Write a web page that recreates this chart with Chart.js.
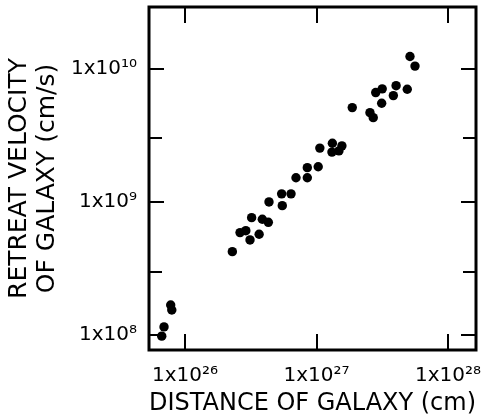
<!DOCTYPE html>
<html>
<head>
<meta charset="utf-8">
<script src="https://cdn.jsdelivr.net/npm/chart.js@4.4.1/dist/chart.umd.min.js"></script>
<style>
  html, body { margin: 0; padding: 0; background: #fff; }
  #wrap { width: 486px; height: 418px; }
</style>
</head>
<body>
<div id="wrap"><canvas id="hubble"></canvas></div>
<script>
// distance of galaxy (cm) and retreat velocity (cm/s)
const distance = [
    6.65e25, 6.92e25, 7.78e25, 7.93e25,
    2.29e26, 2.62e26, 2.90e26, 3.12e26, 3.66e26, 3.21e26, 3.87e26, 4.30e26,
    4.35e26, 5.43e26, 5.49e26, 6.40e26, 6.98e26, 8.51e26, 8.51e26,
    1.03e27, 1.06e27, 1.32e27, 1.31e27, 1.56e27, 1.48e27, 1.87e27,
    2.55e27, 2.70e27, 2.82e27, 3.16e27, 3.13e27, 3.84e27, 4.03e27, 4.90e27,
    5.14e27, 5.61e27
];
const velocity = [
    9.8e7, 1.15e8, 1.68e8, 1.54e8,
    4.23e8, 5.88e8, 6.08e8, 5.18e8, 5.72e8, 7.62e8, 7.41e8, 7.03e8,
    1.00e9, 1.15e9, 9.38e8, 1.15e9, 1.52e9, 1.52e9, 1.81e9,
    1.84e9, 2.54e9, 2.76e9, 2.37e9, 2.64e9, 2.42e9, 5.12e9,
    4.69e9, 4.30e9, 6.64e9, 7.08e9, 5.52e9, 6.30e9, 7.48e9, 7.03e9,
    1.24e10, 1.05e10
];

const xTicks = [1e26, 1e27, 1e28];
const xTickLabels = ['1x10\u00B2\u2076', '1x10\u00B2\u2077', '1x10\u00B2\u2078'];
const yTicks = [1e8, 3e8, 1e9, 3e9, 1e10];
const yTickLabels = ['1x10\u2078', '', '1x10\u2079', '', '1x10\u00B9\u2070'];

const points = distance.map((d, i) => ({ x: d, y: velocity[i] }));

// frame with inward tick marks on all four sides
const framePlugin = {
    id: 'frame',
    afterDatasetsDraw(chart) {
        const ctx = chart.ctx;
        const a = chart.chartArea;
        const xs = chart.scales.x;
        const ys = chart.scales.y;
        ctx.save();
        ctx.strokeStyle = '#000';
        ctx.lineWidth = 3;
        ctx.strokeRect(a.left, a.top, a.right - a.left, a.bottom - a.top);
        ctx.lineWidth = 2;
        ctx.beginPath();
        xTicks.forEach(v => {
            const px = Math.round(xs.getPixelForValue(v));
            ctx.moveTo(px, a.bottom);
            ctx.lineTo(px, a.bottom - 16);
            ctx.moveTo(px, a.top);
            ctx.lineTo(px, a.top + 16);
        });
        yTicks.forEach((v, i) => {
            const py = Math.round(ys.getPixelForValue(v));
            const len = yTickLabels[i] ? 15 : 13;
            ctx.moveTo(a.left, py);
            ctx.lineTo(a.left + len, py);
            ctx.moveTo(a.right, py);
            ctx.lineTo(a.right - len, py);
        });
        ctx.stroke();
        ctx.restore();
    }
};

new Chart(document.getElementById('hubble'), {
    type: 'scatter',
    data: {
        datasets: [{
            data: points,
            backgroundColor: '#000',
            borderWidth: 0,
            pointRadius: 4.7
        }]
    },
    options: {
        responsive: true,
        maintainAspectRatio: false,
        animation: false,
        layout: { padding: { left: 0, right: 10, top: 7, bottom: 0 } },
        plugins: {
            legend: { display: false },
            tooltip: { enabled: false }
        },
        scales: {
            x: {
                type: 'logarithmic',
                min: 5.32e25,
                max: 1.633e28,
                afterBuildTicks: s => { s.ticks = xTicks.map(v => ({ value: v })); },
                afterFit: s => {
                    s.height = 68;
                    s.paddingLeft = 0;
                    s.paddingRight = 0;
                },
                grid: { display: false },
                border: { display: false },
                ticks: {
                    color: '#000',
                    font: { family: 'DejaVu Sans', size: 20 },
                    padding: 6,
                    maxRotation: 0,
                    autoSkip: false,
                    callback: v => xTickLabels[xTicks.indexOf(v)]
                },
                title: {
                    display: true,
                    text: 'DISTANCE OF GALAXY (cm)',
                    color: '#000',
                    font: { family: 'DejaVu Sans', size: 25 },
                    padding: { top: 3, bottom: 0 }
                }
            },
            y: {
                type: 'logarithmic',
                min: 7.71e7,
                max: 2.92e10,
                afterBuildTicks: s => { s.ticks = yTicks.map(v => ({ value: v })); },
                afterFit: s => {
                    s.width = 149;
                    s.paddingTop = 0;
                    s.paddingBottom = 0;
                },
                grid: { display: false },
                border: { display: false },
                ticks: {
                    color: '#000',
                    font: { family: 'DejaVu Sans', size: 20 },
                    padding: 4,
                    autoSkip: false,
                    callback: v => yTickLabels[yTicks.indexOf(v)]
                },
                title: {
                    display: true,
                    text: ['RETREAT VELOCITY', 'OF GALAXY (cm/s)'],
                    color: '#000',
                    font: { family: 'DejaVu Sans', size: 25, lineHeight: 1.1 },
                    padding: { top: 6, bottom: 0 }
                }
            }
        }
    },
    plugins: [framePlugin]
});
</script>
</body>
</html>
